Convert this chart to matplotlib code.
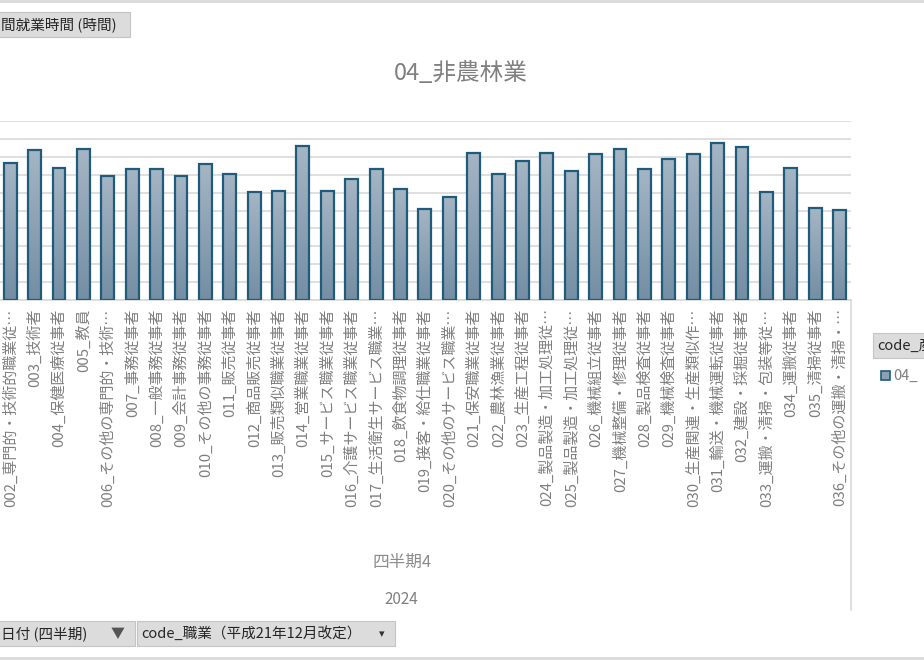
import matplotlib
matplotlib.use("Agg")
import matplotlib.pyplot as plt
import numpy as np
from matplotlib.colors import LinearSegmentedColormap
from matplotlib.patches import Rectangle
from matplotlib.lines import Line2D

plt.rcParams['font.family'] = ['Noto Sans CJK JP', 'DejaVu Sans']

# occupations (visible part of the pivot chart)
occupations = [
    '002_専門的・技術的職業従…', '003_技術者', '004_保健医療従事者', '005_教員',
    '006_その他の専門的・技術…', '007_事務従事者', '008_一般事務従事者',
    '009_会計事務従事者', '010_その他の事務従事者', '011_販売従事者',
    '012_商品販売従事者', '013_販売類似職業従事者', '014_営業職業従事者',
    '015_サービス職業従事者', '016_介護サービス職業従事者', '017_生活衛生サービス職業…',
    '018_飲食物調理従事者', '019_接客・給仕職業従事者', '020_その他のサービス職業…',
    '021_保安職業従事者', '022_農林漁業従事者', '023_生産工程従事者',
    '024_製品製造・加工処理従…', '025_製品製造・加工処理従…', '026_機械組立従事者',
    '027_機械整備・修理従事者', '028_製品検査従事者', '029_機械検査従事者',
    '030_生産関連・生産類似作…', '031_輸送・機械運転従事者', '032_建設・採掘従事者',
    '033_運搬・清掃・包装等従…', '034_運搬従事者', '035_清掃従事者',
    '036_その他の運搬・清掃・…',
]
# monthly working hours (axis labels are cropped, estimated on a 0-200 scale)
hours = [153.4, 167.6, 147.8, 168.7, 138.5, 146.0, 146.0, 138.5, 152.3, 140.8,
         120.3, 122.1, 171.7, 121.5, 134.9, 146.0, 124.4, 102.0, 115.1, 164.6,
         141.1, 155.3, 163.9, 144.1, 162.8, 168.7, 146.7, 157.2, 162.8, 175.1,
         170.6, 120.3, 147.2, 102.5, 100.9]
series_name = '04_非農林業'
quarter_label = '四半期4'
year_label = '2024'

W, H = 924, 660
fig = plt.figure(figsize=(W / 100, H / 100), dpi=100)

def fx(px):
    return px / W

def fy(py):
    return 1 - py / H

ax = fig.add_axes([0, fy(300), fx(851), (300 - 121) / H])
x = np.arange(len(hours))
bars = ax.bar(x, hours, width=0.53, color='none', edgecolor='#1f5b7a',
              linewidth=1.6, zorder=3)

cmap = LinearSegmentedColormap.from_list('bar', ['#748ea4', '#a5b5c4'])
grad = np.linspace(0, 1, 128).reshape(-1, 1)
for b in bars:
    ax.imshow(grad, extent=[b.get_x(), b.get_x() + b.get_width(), 0, b.get_height()],
              origin='lower', cmap=cmap, aspect='auto', zorder=2)

ax.set_xlim(-0.42, 34.47)
ax.set_ylim(0, 200)
ax.set_yticks(np.arange(0, 201, 20))
ax.yaxis.grid(True, color='#d9d9d9', linewidth=1.2)
ax.set_axisbelow(True)
ax.tick_params(axis='y', length=0, labelleft=False)
for s in ['top', 'right', 'left']:
    ax.spines[s].set_visible(False)
ax.spines['bottom'].set_color('#d9d9d9')
ax.spines['bottom'].set_linewidth(1.2)
ax.set_xticks(x)
ax.set_xticklabels(occupations, rotation=90, fontsize=10.8, color='#7f7f7f')
ax.tick_params(axis='x', length=0, pad=6)
for lbl in ax.get_xticklabels():
    lbl.set_va('top')

# title
fig.text(fx(461), fy(73), series_name, ha='center', va='center',
         fontsize=17, color='#808080')

# multi-level category labels
fig.text(fx(402), fy(562), quarter_label, ha='center', va='center',
         fontsize=12, color='#8c8c8c')
fig.text(fx(401), fy(600), year_label, ha='center', va='center',
         fontsize=11, color='#808080')
fig.add_artist(Line2D([fx(851), fx(851)], [fy(300), fy(610)], color='#d9d9d9', lw=1.2))

# chart border lines
fig.add_artist(Line2D([0, 1], [fy(1), fy(1)], color='#d9d9d9', lw=2))
fig.add_artist(Line2D([0, 1], [fy(658), fy(658)], color='#d9d9d9', lw=2))

# pivot field buttons
def button(x0, y0, x1, y1, text, tx, fs=10.5):
    fig.add_artist(Rectangle((fx(x0), fy(y1)), fx(x1) - fx(x0), fy(y0) - fy(y1),
                             facecolor='#dcdcdc', edgecolor='#c4c4c4', lw=0.8,
                             transform=fig.transFigure))
    fig.text(fx(tx), fy((y0 + y1) / 2), text, ha='left', va='center',
             fontsize=fs, color='#262626')

button(-2, 12, 130, 37, '間就業時間 (時間)', 1)
button(-2, 621, 135, 646, '日付 (四半期)', 1)
fig.text(fx(118), fy(634), '▼', ha='center', va='center', fontsize=10, color='#555555')
button(137, 621, 395, 646, 'code_職業（平成21年12月改定）', 141)
fig.text(fx(382), fy(634), '▾', ha='center', va='center', fontsize=8, color='#333333')

# legend (cut off at the right edge, as in the source screenshot)
button(873, 333, 930, 358, 'code_産', 877)
fig.add_artist(Rectangle((fx(881), fy(380)), fx(9), fy(0) - fy(9),
                         facecolor='#8ea1b3', edgecolor='#1f5b7a', lw=1.2,
                         transform=fig.transFigure))
fig.text(fx(893), fy(376), '04_', ha='left', va='center',
         fontsize=10.5, color='#7f7f7f')

fig.savefig('out.png', dpi=100)
